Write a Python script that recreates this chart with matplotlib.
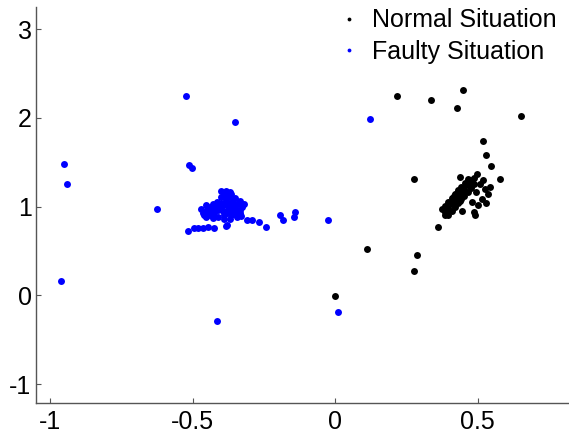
import matplotlib
matplotlib.use("Agg")
import matplotlib.pyplot as plt

plt.rcParams["font.family"] = ["Liberation Sans", "DejaVu Sans"]
plt.rcParams["axes.unicode_minus"] = False

# Normal situation (black) points
normal_x = [
    0.386, 0.397, 0.408, 0.420, 0.431, 0.442, 0.453, 0.465, 0.476, 0.487, 0.498,
    0.397, 0.408, 0.419, 0.431, 0.442, 0.453, 0.464, 0.476, 0.487,
    0.375, 0.386, 0.397, 0.409, 0.420, 0.431, 0.442, 0.454, 0.465,
    0.426, 0.437, 0.415, 0.392, 0.414, 0.448, 0.470, 0.481,
    0.509, 0.526, 0.537, 0.516, 0.530, 0.502, 0.544, 0.495, 0.519, 0.481,
    0.547, 0.579, 0.439, 0.445, 0.485, 0.491, 0.362, 0.386,
    0.518, 0.530, 0.651,
    0.000, 0.218, 0.337, 0.428, 0.449, 0.277, 0.112, 0.288, 0.277,
]
normal_y = [
    0.939, 0.981, 1.024, 1.067, 1.110, 1.153, 1.195, 1.238, 1.281, 1.324, 1.367,
    0.910, 0.952, 0.995, 1.038, 1.081, 1.124, 1.166, 1.209, 1.252,
    0.968, 1.010, 1.053, 1.096, 1.139, 1.182, 1.224, 1.267, 1.310,
    1.150, 1.060, 1.120, 0.925, 1.090, 1.170, 1.260, 1.300,
    1.254, 1.198, 1.141, 1.085, 1.040, 1.017, 1.220, 1.164, 1.300, 1.051,
    1.457, 1.307, 1.333, 0.946, 0.939, 0.901, 0.770, 0.901,
    1.740, 1.585, 2.020,
    -0.010, 2.246, 2.200, 2.110, 2.320, 1.310, 0.522, 0.454, 0.274,
]

# Faulty situation (blue) points
faulty_x = [
    -0.525, -0.353, -0.952, -0.940, -0.513, -0.502, -0.626, -0.962, -0.414,
    0.008, -0.027, 0.123, -0.517,
    -0.497, -0.480, -0.463, -0.445, -0.427, -0.384, -0.380,
    -0.310, -0.291, -0.269, -0.243, -0.195, -0.182, -0.141, -0.143,
    -0.392, -0.375, -0.359, -0.343, -0.327,
    -0.400, -0.385, -0.370, -0.365, -0.350, -0.335, -0.320,
    -0.400, -0.383, -0.367, -0.351, -0.335,
    -0.465, -0.450, -0.440, -0.430, -0.415, -0.400, -0.385, -0.370,
    -0.455, -0.440, -0.425, -0.410, -0.395, -0.380, -0.365, -0.350, -0.335,
    -0.430, -0.410, -0.390, -0.370, -0.455, -0.470, -0.345, -0.330,
    -0.400, -0.420, -0.360,
    -0.445, -0.430, -0.415, -0.410, -0.390, -0.375, -0.355, -0.460, -0.345,
]
faulty_y = [
    2.250, 1.950, 1.476, 1.258, 1.465, 1.434, 0.972, 0.161, -0.290,
    -0.188, 0.848, 1.990, 0.728,
    0.760, 0.755, 0.760, 0.765, 0.755, 0.777, 0.790,
    0.848, 0.848, 0.829, 0.770, 0.905, 0.852, 0.942, 0.879,
    1.145, 1.108, 1.070, 1.032, 0.995,
    1.180, 1.180, 1.160, 1.140, 1.100, 1.060, 1.030,
    1.110, 1.070, 1.040, 1.000, 0.960,
    0.930, 0.960, 1.000, 1.030, 1.050, 1.040, 1.020, 0.990,
    0.880, 0.900, 0.930, 0.960, 0.950, 0.930, 0.900, 0.920, 0.930,
    0.870, 0.880, 0.860, 0.860, 1.020, 0.970, 0.880, 0.890,
    0.990, 1.000, 0.950,
    0.930, 0.960, 0.990, 1.020, 0.900, 0.960, 0.970, 0.900, 0.950,
]

x_ticks = [-1, -0.5, 0, 0.5]
x_tick_labels = ["-1", "-0.5", "0", "0.5"]
y_ticks = [-1, 0, 1, 2, 3]
y_tick_labels = ["-1", "0", "1", "2", "3"]

fig = plt.figure(figsize=(5.69, 4.34), dpi=100)
ax = fig.add_axes([0.0627, 0.0707, 0.9373, 0.9132])

ax.plot(normal_x, normal_y, linestyle="none", marker="o", ms=5.0, mew=0,
        color="black", label="Normal Situation")
ax.plot(faulty_x, faulty_y, linestyle="none", marker="o", ms=5.0, mew=0,
        color="#0000ff", label="Faulty Situation")

ax.set_xlim(-1.051, 0.82)
ax.set_ylim(-1.217, 3.25)
ax.set_xticks(x_ticks)
ax.set_xticklabels(x_tick_labels)
ax.set_yticks(y_ticks)
ax.set_yticklabels(y_tick_labels)

for side in ["top", "right"]:
    ax.spines[side].set_visible(False)
for side in ["left", "bottom"]:
    ax.spines[side].set_color("#555555")
    ax.spines[side].set_linewidth(1.0)

ax.tick_params(direction="in", length=3.5, width=0.8, color="#555555",
               labelsize=18, labelcolor="black")
ax.tick_params(axis="x", pad=5)
ax.tick_params(axis="y", pad=3)

leg = ax.legend(loc="upper right", bbox_to_anchor=(0.995, 1.022), frameon=False,
                fontsize=18, handlelength=0.6, handletextpad=0.6,
                labelspacing=0.3, markerscale=0.55, borderaxespad=0.0)

fig.savefig("out.png", dpi=100)
